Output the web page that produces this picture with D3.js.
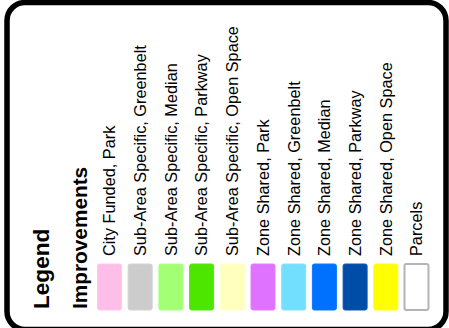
<!DOCTYPE html>
<html><head><meta charset="utf-8">
<script src="https://cdn.jsdelivr.net/npm/d3@7"></script>
<style>html,body{margin:0;padding:0;background:#fff;overflow:hidden}svg{display:block}</style>
</head><body>
<svg id="c" width="449" height="328"></svg>
<script>
const categories = ["City Funded, Park","Sub-Area Specific, Greenbelt","Sub-Area Specific, Median","Sub-Area Specific, Parkway","Sub-Area Specific, Open Space","Zone Shared, Park","Zone Shared, Greenbelt","Zone Shared, Median","Zone Shared, Parkway","Zone Shared, Open Space","Parcels"];
const fills = ["#FFBEE8","#CCCCCC","#A3FF73","#4CE600","#FFFFBE","#DF73FF","#73DFFF","#0070FF","#004DA8","#FFFF00","#FFFFFF"];
const strokes = ["#FFC8EE","#D2D2D2","#ADFF82","#55E80F","#FFFFC8","#E07EFF","#80E2FF","#0A78FF","#0A56AE","#FFFF10","#B4B4B4"];
const title = "Legend";
const subtitle = "Improvements";

const svg = d3.select("#c");
const font = "'Liberation Sans', Arial, sans-serif";

svg.append("rect").attr("x",7).attr("y",2.5).attr("width",439).attr("height",327)
  .attr("rx",18).attr("fill","#fff").attr("stroke","#000").attr("stroke-width",5.5);

const x = d3.scalePoint().domain(categories).range([109.5, 416.5]);
const sw = 24, y0 = 264, y1 = 310, textY = 256;

svg.append("text").attr("transform",`translate(49,309) rotate(-90)`)
  .attr("font-family",font).attr("font-weight","bold").attr("font-size",22.6).attr("fill","#000").text(title);
svg.append("text").attr("transform",`translate(87,309) rotate(-90)`)
  .attr("font-family",font).attr("font-weight","bold").attr("font-size",20.8).attr("fill","#000").text(subtitle);

const g = svg.selectAll("g.item").data(categories).join("g").attr("class","item");
g.append("rect")
  .attr("x",d=>x(d)-sw/2).attr("y",y0).attr("width",sw).attr("height",y1-y0)
  .attr("rx",2)
  .attr("fill",(d,i)=>fills[i]).attr("stroke",(d,i)=>strokes[i]).attr("stroke-width",(d,i)=>i===categories.length-1?2:1);
g.append("text")
  .attr("transform",d=>`translate(${x(d)+5.8},${textY}) rotate(-90)`)
  .attr("font-family",font).attr("font-size",16.3).attr("fill","#000").text(d=>d);
</script>
</body></html>
